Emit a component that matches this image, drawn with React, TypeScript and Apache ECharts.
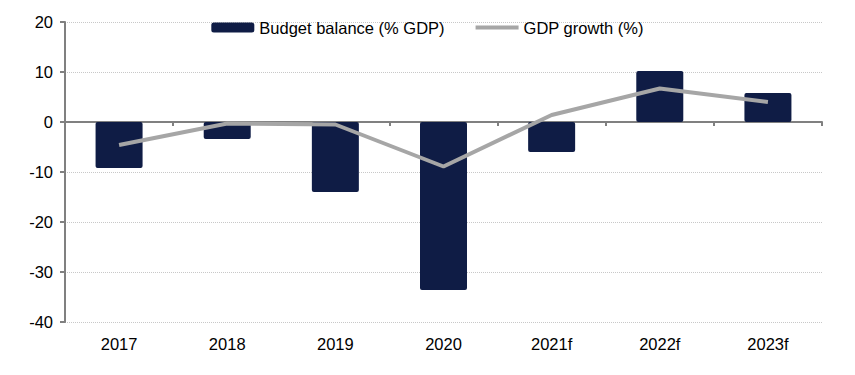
import React, { useEffect, useRef } from "react";
import * as echarts from "echarts";

const categories = ["2017", "2018", "2019", "2020", "2021f", "2022f", "2023f"];
const budgetBalance = [-9.2, -3.4, -14.0, -33.6, -6.0, 10.2, 5.8];
const gdpGrowth = [-4.6, -0.3, -0.5, -8.9, 1.4, 6.7, 4.0];
const yMin = -40;
const yMax = 20;
const yInterval = 10;

const FONT = "'Liberation Sans', Arial, sans-serif";
const FS = 16.5;

export default function App() {
  const ref = useRef<HTMLDivElement>(null);
  useEffect(() => {
    document.body.style.margin = "0";
    const chart = echarts.init(ref.current!, null, { renderer: "svg" });
    chart.setOption({
      animation: false,
      backgroundColor: "#ffffff",
      textStyle: { fontFamily: FONT },
      legend: {
        top: 14,
        left: "center",
        itemWidth: 43,
        itemHeight: 10,
        itemGap: 31,
        textStyle: { fontSize: FS, color: "#000", fontFamily: FONT },
        data: [
          { name: "Budget balance (% GDP)", icon: "roundRect" },
          { name: "GDP growth (%)", icon: "path://M0,0 L43,0 L43,4 L0,4 Z" },
        ],
      },
      grid: { left: 65, right: 33, top: 22, bottom: 53, containLabel: false },
      xAxis: [
        {
          type: "category",
          data: categories,
          position: "bottom",
          axisLine: { show: false, onZero: false },
          axisTick: { show: false },
          axisLabel: { margin: 13, fontSize: FS, color: "#000", fontFamily: FONT },
        },
        {
          type: "category",
          data: categories,
          position: "bottom",
          axisLine: { show: true, onZero: true, lineStyle: { color: "#808080", width: 2 } },
          axisTick: { show: true, length: 4, lineStyle: { color: "#808080", width: 2 } },
          axisLabel: { show: false },
          splitLine: { show: false },
        },
      ],
      yAxis: {
        type: "value",
        min: yMin,
        max: yMax,
        interval: yInterval,
        axisLine: { show: true, lineStyle: { color: "#808080", width: 2 } },
        axisTick: { show: true, length: 5, lineStyle: { color: "#808080", width: 2 } },
        axisLabel: { margin: 12, fontSize: FS, color: "#000", fontFamily: FONT },
        splitLine: { show: true, lineStyle: { color: "#c8c8c8", type: "dotted", width: 1 } },
      },
      series: [
        {
          name: "Budget balance (% GDP)",
          type: "bar",
          data: budgetBalance,
          barWidth: 47,
          itemStyle: { color: "#0f1c45", borderRadius: 2 },
          z: 2,
        },
        {
          name: "GDP growth (%)",
          type: "line",
          data: gdpGrowth,
          symbol: "none",
          showSymbol: false,
          lineStyle: { color: "#a6a6a6", width: 4 },
          itemStyle: { color: "#a6a6a6" },
          z: 3,
        },
      ],
    });
    return () => chart.dispose();
  }, []);
  return <div ref={ref} style={{ width: 855, height: 375 }} />;
}
